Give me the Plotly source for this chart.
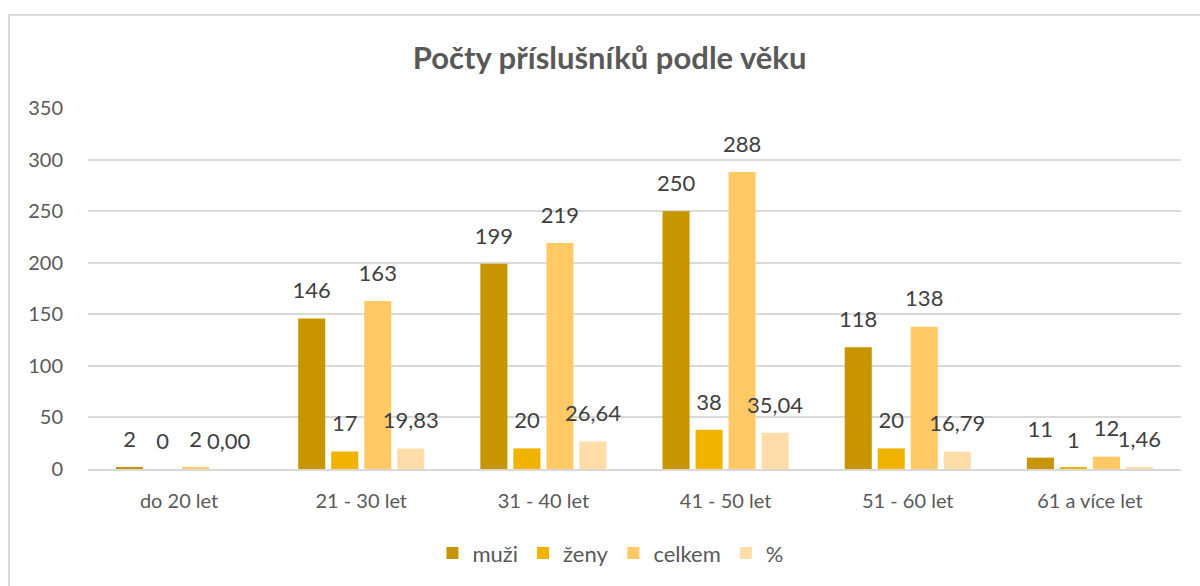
import plotly.graph_objects as go

categories = ["do 20 let", "21 - 30 let", "31 - 40 let", "41 - 50 let", "51 - 60 let", "61 a více let"]
muzi = [2, 146, 199, 250, 118, 11]
zeny = [0, 17, 20, 38, 20, 1]
celkem = [2, 163, 219, 288, 138, 12]
procenta = [0.00, 19.83, 26.64, 35.04, 16.79, 1.46]

series = [
    ("muži", muzi, "#C69500", [str(v) for v in muzi]),
    ("ženy", zeny, "#F0B400", [str(v) for v in zeny]),
    ("celkem", celkem, "#FFC966", [str(v) for v in celkem]),
    ("%", procenta, "#FFDCA8", [f"{v:.2f}".replace(".", ",") for v in procenta]),
]

FONT = "Lato, 'Open Sans', sans-serif"
GAP = 0.275

fig = go.Figure()
for i, (name, vals, color, texts) in enumerate(series):
    fig.add_trace(go.Bar(
        name=name, x=categories, y=vals, marker_color=color,
        marker_line_width=0, offsetgroup=f"g{i}", alignmentgroup="a",
    ))
for i, (name, vals, color, texts) in enumerate(series):
    fig.add_trace(go.Scatter(
        x=categories, y=vals, mode="markers+text", text=texts,
        textposition="top center", offsetgroup=f"g{i}", alignmentgroup="a",
        marker=dict(size=22, opacity=0, color=color),
        textfont=dict(size=22, color="#404040", family=FONT),
        showlegend=False, hoverinfo="skip", cliponaxis=False,
    ))

fig.update_layout(
    width=1200, height=586,
    margin=dict(l=88, r=19, t=108, b=117, autoexpand=False),
    paper_bgcolor="white", plot_bgcolor="white",
    barmode="group", bargap=GAP, bargroupgap=0.18,
    scattermode="group", scattergap=GAP,
    title=dict(text="<b>Počty příslušníků podle věku</b>", x=0.508, xanchor="center",
               y=0.901, yanchor="middle",
               font=dict(size=31, color="#595959", family=FONT)),
    font=dict(family=FONT, color="#595959"),
    legend=dict(orientation="h", x=0.478, xanchor="center", y=-0.233, yanchor="middle",
                font=dict(size=22, color="#595959", family=FONT), traceorder="normal",
                itemwidth=30),
    showlegend=True,
)
fig.update_yaxes(range=[0, 350], dtick=50, showgrid=True, gridcolor="#D9D9D9", gridwidth=1.5,
                 zeroline=False, tickfont=dict(size=20, color="#595959", family=FONT),
                 ticklabelstandoff=24)
fig.update_xaxes(showline=True, linecolor="#D9D9D9", linewidth=1.5,
                 tickfont=dict(size=20, color="#595959", family=FONT),
                 ticklabelstandoff=13)

# outer chart frame
fig.add_shape(type="rect", xref="paper", yref="paper",
              x0=(9 - 88) / 1093, x1=(1215 - 88) / 1093,
              y0=(469 - 620) / 361, y1=(469 - 15) / 361,
              line=dict(color="#D9D9D9", width=2), fillcolor="rgba(0,0,0,0)")

fig.write_html("out.html", config={"displayModeBar": False},
               post_script="document.body.style.margin='0px';")
